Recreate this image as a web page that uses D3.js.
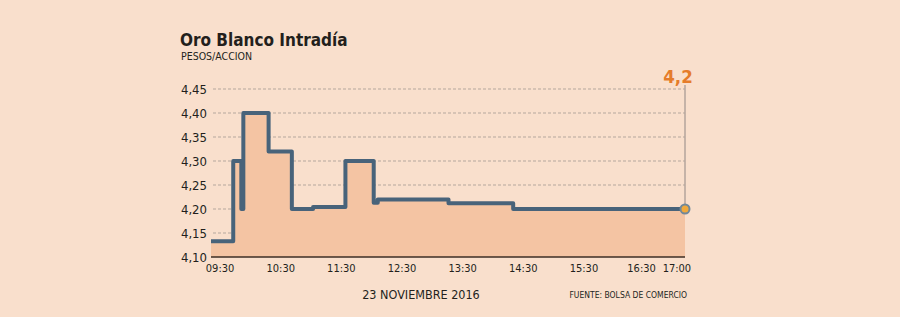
<!DOCTYPE html>
<html>
<head>
<meta charset="utf-8">
<script src="https://cdn.jsdelivr.net/npm/d3@7"></script>
<style>
  html, body { margin: 0; padding: 0; background: #f9dfcc; }
  svg { display: block; }
  text { font-family: "DejaVu Sans Condensed", "DejaVu Sans", sans-serif; fill: #231f1c; }
</style>
</head>
<body>
<svg id="chart" width="900" height="317"></svg>
<script>
const times = ["09:21", "09:43", "09:51", "09:53", "10:18", "10:41", "11:02", "11:34", "12:02", "12:06", "13:16", "14:20", "17:10"];
const prices = [4.133, 4.30, 4.20, 4.40, 4.32, 4.20, 4.204, 4.30, 4.213, 4.22, 4.212, 4.20, 4.20];
const yTicks = [4.10, 4.15, 4.20, 4.25, 4.30, 4.35, 4.40, 4.45];
const xTickLabels = ["09:30", "10:30", "11:30", "12:30", "13:30", "14:30", "15:30", "16:30", "17:00"];
const lastLabel = "4,2";

const svg = d3.select("#chart");
const parseTime = d3.timeParse("%H:%M");
const fmt = d3.formatLocale({ decimal: ",", thousands: ".", grouping: [3], currency: ["$", ""] }).format(".2f");

const data = times.map((t, i) => ({ t: parseTime(t), v: prices[i] }));

const x = d3.scaleTime()
  .domain([data[0].t, data[data.length - 1].t])
  .range([211, 685]);
const y = d3.scaleLinear().domain([4.10, 4.45]).range([257, 89]);

// title
svg.append("text").attr("x", 180).attr("y", 46)
  .style("font-size", "17px").style("font-weight", "bold")
  .text("Oro Blanco Intradía");
svg.append("text").attr("x", 181).attr("y", 60)
  .style("font-size", "10.5px")
  .text("PESOS/ACCION");

// grid
svg.append("g")
  .selectAll("line")
  .data(yTicks.slice(1))
  .join("line")
  .attr("x1", 213).attr("x2", 685)
  .attr("y1", (d) => y(d)).attr("y2", (d) => y(d))
  .attr("stroke", "#b5a79d").attr("stroke-width", 1)
  .attr("stroke-dasharray", "3,2");

// area + line
const area = d3.area()
  .curve(d3.curveStepAfter)
  .x((d) => x(d.t)).y0(y(4.10)).y1((d) => y(d.v));
svg.append("path").datum(data).attr("d", area).attr("fill", "#f4c4a3");

const line = d3.line()
  .curve(d3.curveStepAfter)
  .x((d) => x(d.t)).y((d) => y(d.v));

// last value marker line
const last = data[data.length - 1];
svg.append("line")
  .attr("x1", x(last.t)).attr("x2", x(last.t))
  .attr("y1", 85).attr("y2", y(last.v))
  .attr("stroke", "#b3a49c").attr("stroke-width", 1.5);

svg.append("path").datum(data).attr("d", line)
  .attr("fill", "none").attr("stroke", "#48637a")
  .attr("stroke-width", 4).attr("stroke-linejoin", "round");

// axis baseline
svg.append("line")
  .attr("x1", 211).attr("x2", 685)
  .attr("y1", y(4.10)).attr("y2", y(4.10))
  .attr("stroke", "#3d2e25").attr("stroke-width", 1.5);

svg.append("circle")
  .attr("cx", x(last.t)).attr("cy", y(last.v)).attr("r", 4.5)
  .attr("fill", "#f0a93c").attr("stroke", "#71889a").attr("stroke-width", 2);

svg.append("text")
  .attr("x", x(last.t) - 7).attr("y", 83)
  .attr("text-anchor", "middle")
  .style("font-size", "18.5px").style("font-weight", "bold").style("fill", "#e57c2a")
  .text(lastLabel);

// y labels
svg.append("g")
  .selectAll("text")
  .data(yTicks)
  .join("text")
  .attr("x", 207).attr("y", (d) => y(d) + 4.5)
  .attr("text-anchor", "end")
  .style("font-size", "13px")
  .text((d) => fmt(d));

// x labels
svg.append("g")
  .selectAll("text")
  .data(xTickLabels)
  .join("text")
  .attr("x", (d) => x(parseTime(d)) + (d === "16:30" ? -3 : d === "17:00" ? 2 : 0))
  .attr("y", 272)
  .attr("text-anchor", "middle")
  .style("font-size", "11px")
  .text((d) => d);

svg.append("text").attr("x", 421).attr("y", 299)
  .attr("text-anchor", "middle").style("font-size", "12.5px")
  .text("23 NOVIEMBRE 2016");

svg.append("text").attr("x", 687).attr("y", 298)
  .attr("text-anchor", "end").style("font-size", "8.5px")
  .text("FUENTE: BOLSA DE COMERCIO");
</script>
</body>
</html>
